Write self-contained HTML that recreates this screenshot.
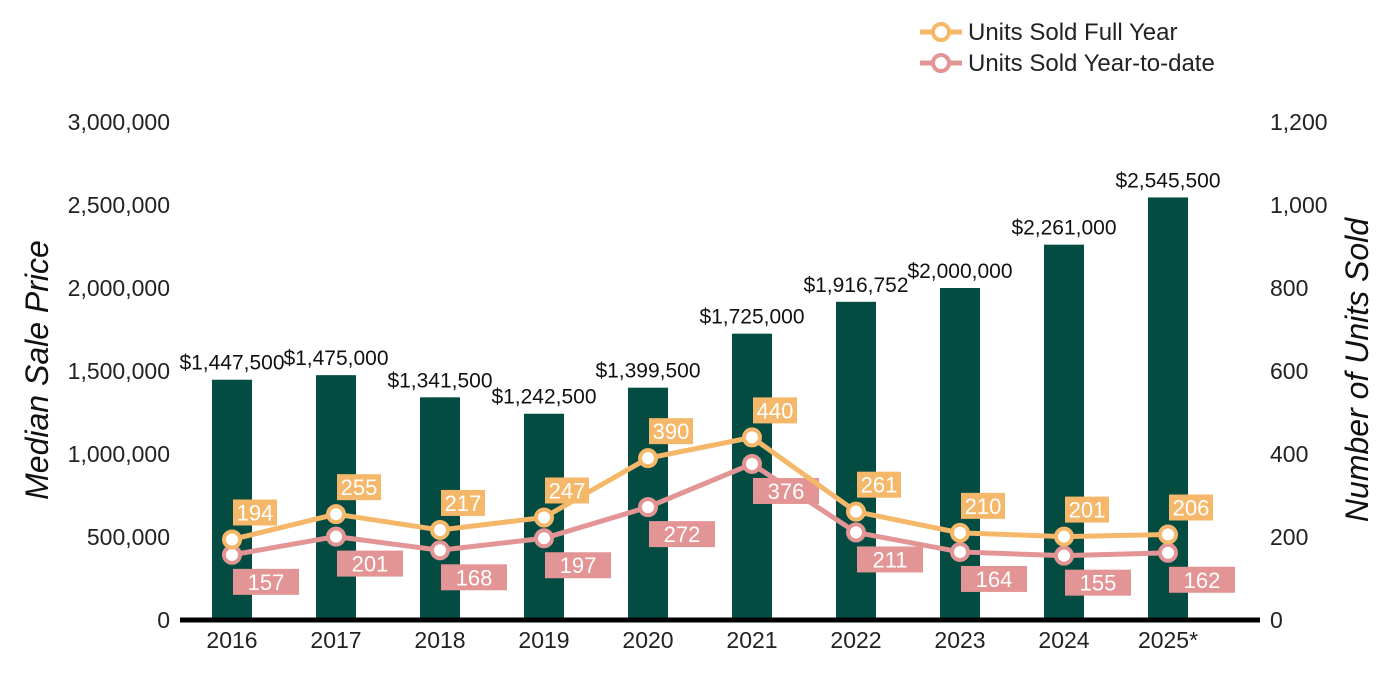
<!DOCTYPE html>
<html><head><meta charset="utf-8"><style>
body{margin:0;background:#fff}
svg{display:block;font-family:"Liberation Sans",Arial,sans-serif}
</style></head><body>
<svg id="chart" width="1400" height="700" viewBox="0 0 1400 700">
<g id="legend">
 <g>
  <line x1="920" y1="32" x2="962" y2="32" stroke="#F5B86A" stroke-width="5"/>
  <circle cx="941" cy="32" r="8" fill="#fff" stroke="#F5B86A" stroke-width="4"/>
  <text x="968" y="40" font-size="24" fill="#222">Units Sold Full Year</text>
 </g>
 <g>
  <line x1="920" y1="63" x2="962" y2="63" stroke="#E39596" stroke-width="5"/>
  <circle cx="941" cy="63" r="8" fill="#fff" stroke="#E39596" stroke-width="4"/>
  <text x="968" y="71" font-size="24" fill="#222">Units Sold Year-to-date</text>
 </g>
</g>
<text x="48" y="370" font-size="32" font-style="italic" text-anchor="middle" transform="rotate(-90 48 370)" fill="#111">Median Sale Price</text>
<text x="1368" y="370" font-size="32" font-style="italic" text-anchor="middle" transform="rotate(-90 1368 370)" fill="#111">Number of Units Sold</text>
<g id="axes"></g>
<g id="bars"></g>
<g id="lines"></g>
</svg>
<script>
const categories=["2016","2017","2018","2019","2020","2021","2022","2023","2024","2025*"];
const prices=[1447500,1475000,1341500,1242500,1399500,1725000,1916752,2000000,2261000,2545500];
const priceLabels=["$1,447,500","$1,475,000","$1,341,500","$1,242,500","$1,399,500","$1,725,000","$1,916,752","$2,000,000","$2,261,000","$2,545,500"];
const fullYear=[194,255,217,247,390,440,261,210,201,206];
const ytd=[157,201,168,197,272,376,211,164,155,162];
const leftTicks=[0,500000,1000000,1500000,2000000,2500000,3000000];
const rightTicks=[0,200,400,600,800,1000,1200];

const NS="http://www.w3.org/2000/svg";
const y0=620,yTop=122;
const yL=v=>y0-v/3000000*(y0-yTop);
const yR=v=>y0-v/1200*(y0-yTop);
const xC=i=>232+i*104;
function mk(tag,attrs,parent,text){const e=document.createElementNS(NS,tag);for(const k in attrs)e.setAttribute(k,attrs[k]);if(text!==undefined)e.textContent=text;parent.appendChild(e);return e;}
const fmt=n=>n.toLocaleString("en-US");
const axes=document.getElementById("axes"),bars=document.getElementById("bars"),lines=document.getElementById("lines");

leftTicks.forEach(t=>{const e=mk("text",{x:170,y:yL(t)+8,"font-size":23,"text-anchor":"end",fill:"#222"},axes,fmt(t));

});
rightTicks.forEach(t=>{const e=mk("text",{x:1270,y:yR(t)+8,"font-size":23,fill:"#222"},axes,fmt(t));

});
categories.forEach((c,i)=>{const e=mk("text",{x:xC(i),y:648,"font-size":23,"text-anchor":"middle",fill:"#222"},axes,c);

});

prices.forEach((p,i)=>{
 const r=mk("rect",{x:xC(i)-20,y:yL(p),width:40,height:y0-yL(p),fill:"#044C41"},bars);
 
 
 const t=mk("text",{x:xC(i),y:yL(p)-10,"font-size":21,"text-anchor":"middle",fill:"#111"},bars,priceLabels[i]);
 
 
});
const ax=mk("line",{x1:180,y1:620,x2:1260,y2:620,stroke:"#000","stroke-width":5},axes);


axes.parentNode.appendChild(axes);

function series(vals,color,name,dx,dy,bw){
 const pl=mk("polyline",{points:vals.map((v,i)=>xC(i)+","+yR(v)).join(" "),fill:"none",stroke:color,"stroke-width":5},lines);
 
 
 vals.forEach((v,i)=>{
  const c=mk("circle",{cx:xC(i),cy:yR(v),r:8,fill:"#fff",stroke:color,"stroke-width":4},lines);
  
  
 });
 vals.forEach((v,i)=>{
  const cx=xC(i)+dx,cy=yR(v)+dy;
  const b=mk("rect",{x:cx-bw/2,y:cy-13,width:bw,height:26,fill:color},lines);
  
  
  const t=mk("text",{x:cx,y:cy+8,"font-size":22,"text-anchor":"middle",fill:"#fff"},lines,String(v));
  
  
 });
}
series(ytd,"#E39596","ytd",34,27,66);
series(fullYear,"#F5B86A","full-year",23,-27,44);
</script>
</body></html>
